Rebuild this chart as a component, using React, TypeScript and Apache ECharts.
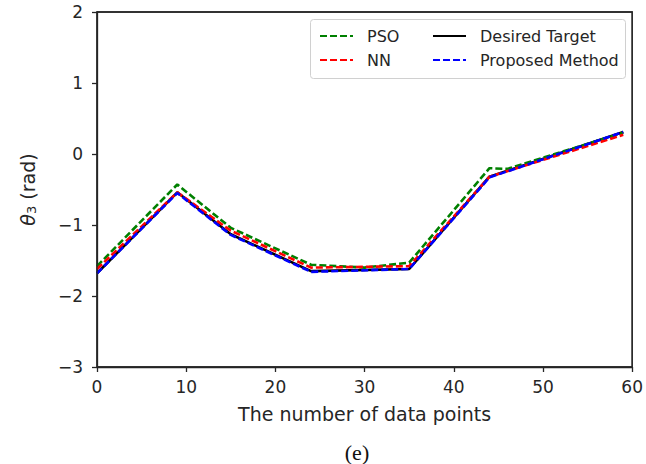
import React, { useEffect, useRef } from "react";
import * as echarts from "echarts";

const xTicks = [0, 10, 20, 30, 40, 50, 60];
const yTicks = [-3, -2, -1, 0, 1, 2];

const psoX = [0, 9, 15, 24, 30, 35, 44, 46, 59];
const psoY = [-1.58, -0.43, -1.04, -1.56, -1.6, -1.53, -0.2, -0.21, 0.3];

const nnX = [0, 9, 15, 24, 35, 44, 59];
const nnY = [-1.62, -0.54, -1.08, -1.6, -1.58, -0.32, 0.27];

const targetX = [0, 9, 15, 24, 35, 44, 59];
const targetY = [-1.68, -0.54, -1.13, -1.65, -1.62, -0.32, 0.31];

const proposedX = [0, 9, 15, 24, 35, 44, 59];
const proposedY = [-1.68, -0.55, -1.14, -1.66, -1.62, -0.33, 0.31];

const pair = (xs: number[], ys: number[]) => xs.map((x, i) => [x, ys[i]]);

const FONT = "DejaVu Sans";
const TXT = "#262626";

export default function App() {
  const ref = useRef<HTMLDivElement>(null);
  useEffect(() => {
    if (!ref.current) return;
    const chart = echarts.init(ref.current, undefined, { renderer: "svg" });
    const dash = [7, 3];
    const lineSeries = (name: string, data: number[][], color: string, type: any, z: number) => ({
      name,
      type: "line",
      data,
      showSymbol: false,
      symbol: "none",
      z,
      lineStyle: { color, width: 2.6, type },
      itemStyle: { color },
    });
    const legendCommon = {
      top: 23,
      orient: "vertical",
      itemWidth: 33,
      itemHeight: 12,
      itemGap: 8,
      z: 10,
      itemStyle: { opacity: 0 },
      textStyle: { fontFamily: FONT, fontSize: 16, color: TXT, padding: [0, 0, 0, 9] },
    };
    const spine = { show: true, onZero: false, lineStyle: { color: TXT, width: 1.3 } };
    const xMin = xTicks[0];
    const xMax = xTicks[xTicks.length - 1];
    const yMin = yTicks[0];
    const yMax = yTicks[yTicks.length - 1];
    chart.setOption({
      animation: false,
      grid: {
        left: 97,
        right: 13,
        top: 12,
        bottom: 97,
        show: true,
        borderColor: TXT,
        borderWidth: 1.3,
        backgroundColor: "rgba(255,255,255,0)",
        z: 1,
      },
      xAxis: {
        type: "value",
        min: xMin,
        max: xMax,
        interval: 10,
        name: "The number of data points",
        nameLocation: "middle",
        nameGap: 37,
        nameTextStyle: { fontFamily: FONT, fontSize: 19, color: TXT },
        axisLine: spine,
        axisTick: { show: true, length: 5, lineStyle: { color: TXT, width: 1.3 } },
        axisLabel: { fontFamily: FONT, fontSize: 17, color: TXT, margin: 11 },
        splitLine: { show: false },
      },
      yAxis: {
        type: "value",
        min: yMin,
        max: yMax,
        interval: 1,
        name: "{t|θ}{s|3}{r| (rad)}",
        nameLocation: "middle",
        nameRotate: 90,
        nameGap: 59,
        nameTextStyle: {
          fontFamily: FONT,
          fontSize: 19,
          color: TXT,
          rich: {
            t: { fontFamily: FONT, fontSize: 19, color: TXT, fontStyle: "italic" },
            s: { fontFamily: FONT, fontSize: 13, color: TXT, padding: [8, 0, 0, 0] },
            r: { fontFamily: FONT, fontSize: 19, color: TXT },
          },
        },
        axisLine: spine,
        axisTick: { show: true, length: 5, lineStyle: { color: TXT, width: 1.3 } },
        axisLabel: {
          fontFamily: FONT,
          fontSize: 17,
          color: TXT,
          margin: 14,
          formatter: (v: number) => (v < 0 ? "\u2212" + Math.abs(v) : String(v)),
        },
        splitLine: { show: false },
      },
      legend: [
        { ...legendCommon, left: 314, data: ["PSO", "NN"] },
        { ...legendCommon, left: 427, data: ["Desired Target", "Proposed Method"] },
      ],
      series: [
        lineSeries("Desired Target", pair(targetX, targetY), "#000000", "solid", 2),
        lineSeries("PSO", pair(psoX, psoY), "#008000", dash, 3),
        lineSeries("NN", pair(nnX, nnY), "#ff0000", dash, 4),
        lineSeries("Proposed Method", pair(proposedX, proposedY), "#0000ff", dash, 5),
      ],
    });
    const tl = chart.convertToPixel({ gridIndex: 0 }, [xMin, yMax]) as number[];
    const br = chart.convertToPixel({ gridIndex: 0 }, [xMax, yMin]) as number[];
    const graphics: any[] = [
      {
        type: "rect",
        left: 310,
        top: 19,
        z: 0,
        shape: { width: 315, height: 59, r: 3 },
        style: { fill: "rgba(255,255,255,0.8)", stroke: "#d0d0d0", lineWidth: 1 },
      },
      {
        type: "text",
        x: 357,
        y: 452,
        z: 0,
        style: {
          text: "(e)",
          font: "22px 'Liberation Serif'",
          fill: "#111",
          textAlign: "center",
          textVerticalAlign: "middle",
        },
      },
    ];
    if (tl && br && isFinite(tl[0]) && isFinite(br[0])) {
      graphics.push({
        type: "rect",
        z: 100,
        silent: true,
        shape: { x: tl[0], y: tl[1], width: br[0] - tl[0], height: br[1] - tl[1] },
        style: { stroke: TXT, lineWidth: 1.3, fill: "rgba(0,0,0,0)" },
      });
    }
    chart.setOption({ graphic: graphics });
    return () => chart.dispose();
  }, []);
  return (
    <div
      ref={ref}
      style={{ position: "absolute", left: 0, top: 0, width: 646, height: 464 }}
    />
  );
}
